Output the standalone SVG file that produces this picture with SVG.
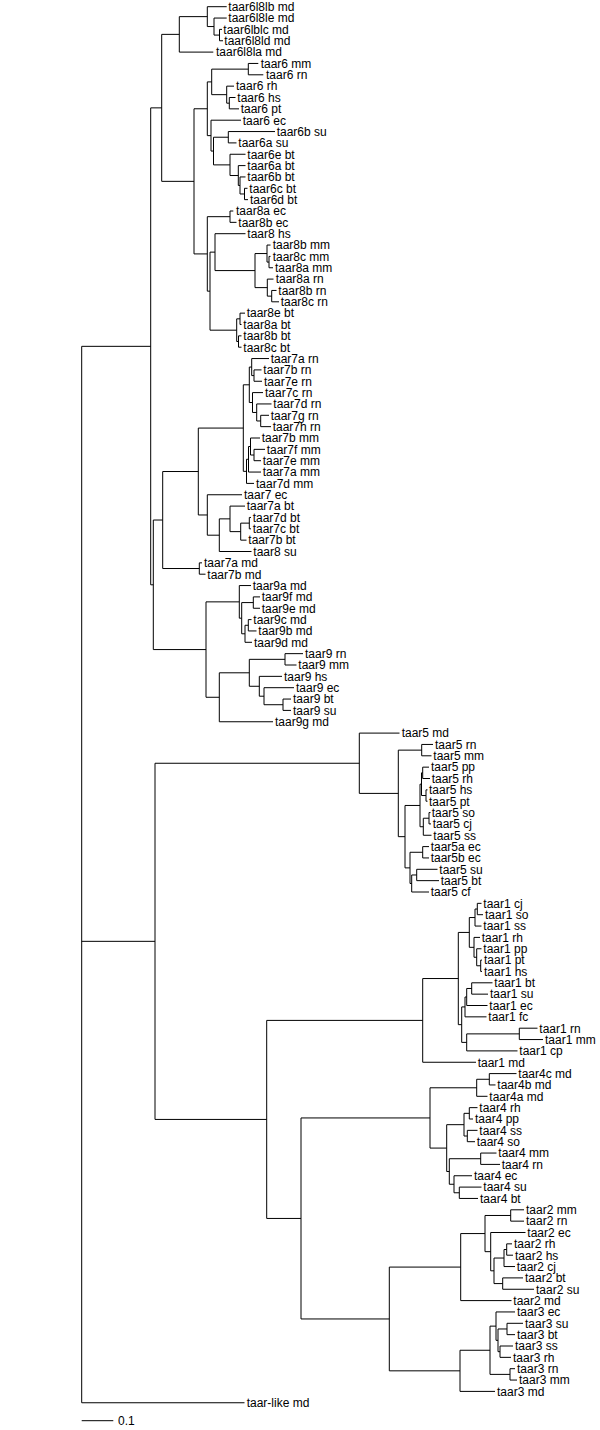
<svg xmlns="http://www.w3.org/2000/svg" width="600" height="1430" viewBox="0 0 600 1430">
<style>
.b{fill:none;stroke:#000;stroke-width:1}
.t{font-family:"Liberation Sans",Arial,sans-serif;font-size:12px;fill:#000}
</style>
<rect width="600" height="1430" fill="#fff"/>
<g id="connectors">
<path class="b" d="M219.5 29.4V40.75M219.5 29.4H222M219.5 40.75H223M214 18.05V35.08M214 18.05H226.7M214 35.08H219.5M207.3 6.7V26.56M207.3 6.7H226.7M207.3 26.56H214M179.3 16.63V52.1M179.3 16.63H207.3M179.3 52.1H213.3M248.3 63.45V74.8M248.3 63.45H258.3M248.3 74.8H263.3M229.3 97.5V108.85M229.3 97.5H235.5M229.3 108.85H239M226.7 86.15V103.18M226.7 86.15H234M226.7 103.18H229.3M211.7 69.13V94.66M211.7 69.13H248.3M211.7 94.66H226.7M228.3 131.55V142.9M228.3 131.55H275M228.3 142.9H236.5M244.5 188.3V199.65M244.5 188.3H247.5M244.5 199.65H248M240 176.95V193.98M240 176.95H245.5M240 193.98H244.5M238.3 165.6V185.46M238.3 165.6H245.5M238.3 185.46H240M230 154.25V175.53M230 154.25H245.5M230 175.53H238.3M213.5 137.23V164.89M213.5 137.23H228.3M213.5 164.89H230M211 120.2V151.06M211 120.2H241M211 151.06H213.5M207.3 81.9V135.63M207.3 81.9H211.7M207.3 135.63H211M230 211V222.35M230 211H233.3M230 222.35H236.5M269 256.4V267.75M269 256.4H270.5M269 267.75H273M267 245.05V262.08M267 245.05H270.5M267 262.08H269M271.7 290.45V301.8M271.7 290.45H276.5M271.7 301.8H279M267.3 279.1V296.13M267.3 279.1H273.5M267.3 296.13H271.7M255 253.56V287.61M255 253.56H267M255 287.61H267.3M215 233.7V270.59M215 233.7H245.5M215 270.59H255M240 313.15V324.5M240 313.15H245M240 324.5H241.5M238.5 335.85V347.2M238.5 335.85H241.5M238.5 347.2H241.5M236.7 318.83V341.53M236.7 318.83H240M236.7 341.53H238.5M210 252.14V330.18M210 252.14H215M210 330.18H236.7M207.3 216.68V291.16M207.3 216.68H230M207.3 291.16H210M194 108.77V253.92M194 108.77H207.3M194 253.92H207.3M161.7 34.37V181.35M161.7 34.37H179.3M161.7 181.35H194"/>
<path class="b" d="M254 369.9V381.25M254 369.9H261.5M254 381.25H262M251.7 358.55V375.58M251.7 358.55H269M251.7 375.58H254M260.7 415.3V426.65M260.7 415.3H269M260.7 426.65H271M256.7 403.95V420.98M256.7 403.95H271.5M256.7 420.98H260.7M252.5 392.6V412.46M252.5 392.6H263M252.5 412.46H256.7M249.3 367.06V402.53M249.3 367.06H251.7M249.3 402.53H252.5M254 449.35V460.7M254 449.35H265M254 460.7H261M250.5 438V455.03M250.5 438H260M250.5 455.03H254M248.5 446.51V472.05M248.5 446.51H250.5M248.5 472.05H261M246.5 459.28V483.4M246.5 459.28H248.5M246.5 483.4H254M243.3 384.8V471.34M243.3 384.8H249.3M243.3 471.34H246.5M249.3 517.45V528.8M249.3 517.45H251M249.3 528.8H251M240.7 523.13V540.15M240.7 523.13H249.3M240.7 540.15H246.5M230 506.1V531.64M230 506.1H245M230 531.64H240.7M219.3 518.87V551.5M219.3 518.87H230M219.3 551.5H251.5M207.3 494.75V535.19M207.3 494.75H242M207.3 535.19H219.3M198.3 428.07V514.97M198.3 428.07H243.3M198.3 514.97H207.3M199.3 562.85V574.2M199.3 562.85H202M199.3 574.2H205.5M162.7 471.52V568.53M162.7 471.52H198.3M162.7 568.53H199.3"/>
<path class="b" d="M253.3 596.9V608.25M253.3 596.9H260M253.3 608.25H260M248.3 619.6V630.95M248.3 619.6H251.5M248.3 630.95H256.5M245 625.28V642.3M245 625.28H248.3M245 642.3H252M241.7 602.58V633.79M241.7 602.58H253.3M241.7 633.79H245M239.3 585.55V618.19M239.3 585.55H251M239.3 618.19H241.7M285 653.65V665M285 653.65H303M285 665H296.5M283 699.05V710.4M283 699.05H291M283 710.4H291M264 687.7V704.73M264 687.7H294M264 704.73H283M259.3 676.35V696.21M259.3 676.35H282M259.3 696.21H264M249.3 659.33V686.28M249.3 659.33H285M249.3 686.28H259.3M219.3 672.8V721.75M219.3 672.8H249.3M219.3 721.75H273M206 601.87V697.28M206 601.87H239.3M206 697.28H219.3M153.3 520.03V649.57M153.3 520.03H162.7M153.3 649.57H206M150.7 107.86V584.8M150.7 107.86H161.7M150.7 584.8H153.3"/>
<path class="b" d="M421.7 744.45V755.8M421.7 744.45H433M421.7 755.8H431.5M422.7 767.15V778.5M422.7 767.15H429M422.7 778.5H430M426 789.85V801.2M426 789.85H427.5M426 801.2H427.5M421.5 772.83V795.53M421.5 772.83H422.7M421.5 795.53H426M429 812.55V823.9M429 812.55H430.5M429 823.9H431M423.3 818.23V835.25M423.3 818.23H429M423.3 835.25H431.5M420 784.18V826.74M420 784.18H421.5M420 826.74H423.3M422.7 846.6V857.95M422.7 846.6H429M422.7 857.95H429M416.7 869.3V880.65M416.7 869.3H437.5M416.7 880.65H439M411.7 874.98V892M411.7 874.98H416.7M411.7 892H429M410 852.28V883.49M410 852.28H422.7M410 883.49H411.7M405 805.46V867.88M405 805.46H420M405 867.88H410M398.3 750.13V836.67M398.3 750.13H421.7M398.3 836.67H405M359.3 733.1V793.4M359.3 733.1H399.5M359.3 793.4H398.3"/>
<path class="b" d="M477.3 903.35V914.7M477.3 903.35H481.5M477.3 914.7H483M475 909.03V926.05M475 909.03H477.3M475 926.05H481.5M480.7 960.1V971.45M480.7 960.1H482M480.7 971.45H482M476.7 948.75V965.78M476.7 948.75H481.5M476.7 965.78H480.7M474 937.4V957.26M474 937.4H480M474 957.26H476.7M469.3 917.54V947.33M469.3 917.54H475M469.3 947.33H474M471.7 982.8V994.15M471.7 982.8H492.5M471.7 994.15H488M466.7 988.48V1005.5M466.7 988.48H471.7M466.7 1005.5H487.5M465 996.99V1016.85M465 996.99H466.7M465 1016.85H486.5M519.3 1028.2V1039.55M519.3 1028.2H537.5M519.3 1039.55H543M466.7 1033.88V1050.9M466.7 1033.88H519.3M466.7 1050.9H517.5M461.7 1006.92V1042.39M461.7 1006.92H465M461.7 1042.39H466.7M458.3 932.43V1024.65M458.3 932.43H469.3M458.3 1024.65H461.7M422.7 978.54V1062.25M422.7 978.54H458.3M422.7 1062.25H476"/>
<path class="b" d="M489.3 1073.6V1084.95M489.3 1073.6H516.5M489.3 1084.95H495.5M476.7 1079.28V1096.3M476.7 1079.28H489.3M476.7 1096.3H487.5M469.3 1107.65V1119M469.3 1107.65H477.5M469.3 1119H473M467.3 1130.35V1141.7M467.3 1130.35H477.5M467.3 1141.7H475M464 1113.33V1136.03M464 1113.33H469.3M464 1136.03H467.3M480.7 1153.05V1164.4M480.7 1153.05H496.5M480.7 1164.4H500M459.3 1187.1V1198.45M459.3 1187.1H481.5M459.3 1198.45H478M454 1175.75V1192.78M454 1175.75H472M454 1192.78H459.3M449.3 1158.73V1184.26M449.3 1158.73H480.7M449.3 1184.26H454M446.7 1124.68V1171.5M446.7 1124.68H464M446.7 1171.5H449.3M430 1087.79V1148.09M430 1087.79H476.7M430 1148.09H446.7"/>
<path class="b" d="M510.7 1209.8V1221.15M510.7 1209.8H524M510.7 1221.15H524M506.7 1243.85V1255.2M506.7 1243.85H512M506.7 1255.2H513M504 1249.53V1266.55M504 1249.53H506.7M504 1266.55H515M502.7 1277.9V1289.25M502.7 1277.9H523M502.7 1289.25H534M494 1258.04V1283.58M494 1258.04H504M494 1283.58H502.7M490.7 1232.5V1270.81M490.7 1232.5H525.5M490.7 1270.81H494M485 1215.48V1251.66M485 1215.48H510.7M485 1251.66H490.7M460.7 1233.57V1300.6M460.7 1233.57H485M460.7 1300.6H511.5"/>
<path class="b" d="M507 1323.3V1334.65M507 1323.3H523M507 1334.65H515M500 1346V1357.35M500 1346H513M500 1357.35H511M498 1328.98V1351.68M498 1328.98H507M498 1351.68H500M496 1311.95V1340.33M496 1311.95H515M496 1340.33H498M510 1368.7V1380.05M510 1368.7H515M510 1380.05H517M490 1326.14V1374.38M490 1326.14H496M490 1374.38H510M460 1350.26V1391.4M460 1350.26H490M460 1391.4H495"/>
<path class="b" d="M389.3 1267.09V1370.83M389.3 1267.09H460.7M389.3 1370.83H460M301 1117.94V1318.96M301 1117.94H430M301 1318.96H389.3M266.7 1020.4V1218.45M266.7 1020.4H422.7M266.7 1218.45H301M155 763.25V1119.43M155 763.25H359.3M155 1119.43H266.7M81.7 346.33V1402.75M81.7 346.33H150.7M81.7 941.34H155M81.7 1402.75H244.5"/>
</g>
<g id="scale-bar">
<path class="b" d="M81.7 1420.7H113.3"/>
<text class="t" x="118" y="1425">0.1</text>
</g>
<g id="leaf-1"><text class="t" x="228.3" y="11">taar6l8lb md</text></g>
<g id="leaf-2"><text class="t" x="228.3" y="22.35">taar6l8le md</text></g>
<g id="leaf-3"><text class="t" x="223.3" y="33.7">taar6lblc md</text></g>
<g id="leaf-4"><text class="t" x="224.3" y="45.05">taar6l8ld md</text></g>
<g id="leaf-5"><text class="t" x="216" y="56.4">taar6l8la md</text></g>
<g id="leaf-6"><text class="t" x="260.7" y="67.75">taar6 mm</text></g>
<g id="leaf-7"><text class="t" x="266" y="79.1">taar6 rn</text></g>
<g id="leaf-8"><text class="t" x="236" y="90.45">taar6 rh</text></g>
<g id="leaf-9"><text class="t" x="237.3" y="101.8">taar6 hs</text></g>
<g id="leaf-10"><text class="t" x="240.7" y="113.15">taar6 pt</text></g>
<g id="leaf-11"><text class="t" x="242.7" y="124.5">taar6 ec</text></g>
<g id="leaf-12"><text class="t" x="276.7" y="135.85">taar6b su</text></g>
<g id="leaf-13"><text class="t" x="238.3" y="147.2">taar6a su</text></g>
<g id="leaf-14"><text class="t" x="247.3" y="158.55">taar6e bt</text></g>
<g id="leaf-15"><text class="t" x="247.3" y="169.9">taar6a bt</text></g>
<g id="leaf-16"><text class="t" x="247.3" y="181.25">taar6b bt</text></g>
<g id="leaf-17"><text class="t" x="249.3" y="192.6">taar6c bt</text></g>
<g id="leaf-18"><text class="t" x="250" y="203.95">taar6d bt</text></g>
<g id="leaf-19"><text class="t" x="236" y="215.3">taar8a ec</text></g>
<g id="leaf-20"><text class="t" x="238.3" y="226.65">taar8b ec</text></g>
<g id="leaf-21"><text class="t" x="247.3" y="238">taar8 hs</text></g>
<g id="leaf-22"><text class="t" x="272.7" y="249.35">taar8b mm</text></g>
<g id="leaf-23"><text class="t" x="272.7" y="260.7">taar8c mm</text></g>
<g id="leaf-24"><text class="t" x="275" y="272.05">taar8a mm</text></g>
<g id="leaf-25"><text class="t" x="275.7" y="283.4">taar8a rn</text></g>
<g id="leaf-26"><text class="t" x="278.3" y="294.75">taar8b rn</text></g>
<g id="leaf-27"><text class="t" x="280.7" y="306.1">taar8c rn</text></g>
<g id="leaf-28"><text class="t" x="246.7" y="317.45">taar8e bt</text></g>
<g id="leaf-29"><text class="t" x="243.3" y="328.8">taar8a bt</text></g>
<g id="leaf-30"><text class="t" x="243.3" y="340.15">taar8b bt</text></g>
<g id="leaf-31"><text class="t" x="243.3" y="351.5">taar8c bt</text></g>
<g id="leaf-32"><text class="t" x="270.7" y="362.85">taar7a rn</text></g>
<g id="leaf-33"><text class="t" x="263.3" y="374.2">taar7b rn</text></g>
<g id="leaf-34"><text class="t" x="264" y="385.55">taar7e rn</text></g>
<g id="leaf-35"><text class="t" x="265" y="396.9">taar7c rn</text></g>
<g id="leaf-36"><text class="t" x="273.3" y="408.25">taar7d rn</text></g>
<g id="leaf-37"><text class="t" x="270.7" y="419.6">taar7g rn</text></g>
<g id="leaf-38"><text class="t" x="272.7" y="430.95">taar7h rn</text></g>
<g id="leaf-39"><text class="t" x="261.7" y="442.3">taar7b mm</text></g>
<g id="leaf-40"><text class="t" x="266.7" y="453.65">taar7f mm</text></g>
<g id="leaf-41"><text class="t" x="262.7" y="465">taar7e mm</text></g>
<g id="leaf-42"><text class="t" x="262.7" y="476.35">taar7a mm</text></g>
<g id="leaf-43"><text class="t" x="256" y="487.7">taar7d mm</text></g>
<g id="leaf-44"><text class="t" x="244" y="499.05">taar7 ec</text></g>
<g id="leaf-45"><text class="t" x="246.7" y="510.4">taar7a bt</text></g>
<g id="leaf-46"><text class="t" x="252.7" y="521.75">taar7d bt</text></g>
<g id="leaf-47"><text class="t" x="252.7" y="533.1">taar7c bt</text></g>
<g id="leaf-48"><text class="t" x="248.3" y="544.45">taar7b bt</text></g>
<g id="leaf-49"><text class="t" x="253.3" y="555.8">taar8 su</text></g>
<g id="leaf-50"><text class="t" x="204" y="567.15">taar7a md</text></g>
<g id="leaf-51"><text class="t" x="207.3" y="578.5">taar7b md</text></g>
<g id="leaf-52"><text class="t" x="252.7" y="589.85">taar9a md</text></g>
<g id="leaf-53"><text class="t" x="261.7" y="601.2">taar9f md</text></g>
<g id="leaf-54"><text class="t" x="261.7" y="612.55">taar9e md</text></g>
<g id="leaf-55"><text class="t" x="253.3" y="623.9">taar9c md</text></g>
<g id="leaf-56"><text class="t" x="258.3" y="635.25">taar9b md</text></g>
<g id="leaf-57"><text class="t" x="254" y="646.6">taar9d md</text></g>
<g id="leaf-58"><text class="t" x="305" y="657.95">taar9 rn</text></g>
<g id="leaf-59"><text class="t" x="298.3" y="669.3">taar9 mm</text></g>
<g id="leaf-60"><text class="t" x="284" y="680.65">taar9 hs</text></g>
<g id="leaf-61"><text class="t" x="296" y="692">taar9 ec</text></g>
<g id="leaf-62"><text class="t" x="293" y="703.35">taar9 bt</text></g>
<g id="leaf-63"><text class="t" x="293" y="714.7">taar9 su</text></g>
<g id="leaf-64"><text class="t" x="275" y="726.05">taar9g md</text></g>
<g id="leaf-65"><text class="t" x="401.7" y="737.4">taar5 md</text></g>
<g id="leaf-66"><text class="t" x="435" y="748.75">taar5 rn</text></g>
<g id="leaf-67"><text class="t" x="433.3" y="760.1">taar5 mm</text></g>
<g id="leaf-68"><text class="t" x="431" y="771.45">taar5 pp</text></g>
<g id="leaf-69"><text class="t" x="431.7" y="782.8">taar5 rh</text></g>
<g id="leaf-70"><text class="t" x="429" y="794.15">taar5 hs</text></g>
<g id="leaf-71"><text class="t" x="429" y="805.5">taar5 pt</text></g>
<g id="leaf-72"><text class="t" x="431.7" y="816.85">taar5 so</text></g>
<g id="leaf-73"><text class="t" x="432.7" y="828.2">taar5 cj</text></g>
<g id="leaf-74"><text class="t" x="433.3" y="839.55">taar5 ss</text></g>
<g id="leaf-75"><text class="t" x="430.7" y="850.9">taar5a ec</text></g>
<g id="leaf-76"><text class="t" x="430.7" y="862.25">taar5b ec</text></g>
<g id="leaf-77"><text class="t" x="439.3" y="873.6">taar5 su</text></g>
<g id="leaf-78"><text class="t" x="440.7" y="884.95">taar5 bt</text></g>
<g id="leaf-79"><text class="t" x="430.7" y="896.3">taar5 cf</text></g>
<g id="leaf-80"><text class="t" x="483.3" y="907.65">taar1 cj</text></g>
<g id="leaf-81"><text class="t" x="485" y="919">taar1 so</text></g>
<g id="leaf-82"><text class="t" x="483.3" y="930.35">taar1 ss</text></g>
<g id="leaf-83"><text class="t" x="481.7" y="941.7">taar1 rh</text></g>
<g id="leaf-84"><text class="t" x="483.3" y="953.05">taar1 pp</text></g>
<g id="leaf-85"><text class="t" x="484" y="964.4">taar1 pt</text></g>
<g id="leaf-86"><text class="t" x="484" y="975.75">taar1 hs</text></g>
<g id="leaf-87"><text class="t" x="494.3" y="987.1">taar1 bt</text></g>
<g id="leaf-88"><text class="t" x="490" y="998.45">taar1 su</text></g>
<g id="leaf-89"><text class="t" x="489.3" y="1009.8">taar1 ec</text></g>
<g id="leaf-90"><text class="t" x="488.3" y="1021.15">taar1 fc</text></g>
<g id="leaf-91"><text class="t" x="539.3" y="1032.5">taar1 rn</text></g>
<g id="leaf-92"><text class="t" x="545" y="1043.85">taar1 mm</text></g>
<g id="leaf-93"><text class="t" x="519.3" y="1055.2">taar1 cp</text></g>
<g id="leaf-94"><text class="t" x="477.7" y="1066.55">taar1 md</text></g>
<g id="leaf-95"><text class="t" x="518.3" y="1077.9">taar4c md</text></g>
<g id="leaf-96"><text class="t" x="497.3" y="1089.25">taar4b md</text></g>
<g id="leaf-97"><text class="t" x="489.3" y="1100.6">taar4a md</text></g>
<g id="leaf-98"><text class="t" x="479.3" y="1111.95">taar4 rh</text></g>
<g id="leaf-99"><text class="t" x="475" y="1123.3">taar4 pp</text></g>
<g id="leaf-100"><text class="t" x="479.3" y="1134.65">taar4 ss</text></g>
<g id="leaf-101"><text class="t" x="476.7" y="1146">taar4 so</text></g>
<g id="leaf-102"><text class="t" x="498.3" y="1157.35">taar4 mm</text></g>
<g id="leaf-103"><text class="t" x="501.7" y="1168.7">taar4 rn</text></g>
<g id="leaf-104"><text class="t" x="474" y="1180.05">taar4 ec</text></g>
<g id="leaf-105"><text class="t" x="483.3" y="1191.4">taar4 su</text></g>
<g id="leaf-106"><text class="t" x="480" y="1202.75">taar4 bt</text></g>
<g id="leaf-107"><text class="t" x="526" y="1214.1">taar2 mm</text></g>
<g id="leaf-108"><text class="t" x="526" y="1225.45">taar2 rn</text></g>
<g id="leaf-109"><text class="t" x="527.3" y="1236.8">taar2 ec</text></g>
<g id="leaf-110"><text class="t" x="514" y="1248.15">taar2 rh</text></g>
<g id="leaf-111"><text class="t" x="515" y="1259.5">taar2 hs</text></g>
<g id="leaf-112"><text class="t" x="516.7" y="1270.85">taar2 cj</text></g>
<g id="leaf-113"><text class="t" x="525" y="1282.2">taar2 bt</text></g>
<g id="leaf-114"><text class="t" x="536" y="1293.55">taar2 su</text></g>
<g id="leaf-115"><text class="t" x="513.3" y="1304.9">taar2 md</text></g>
<g id="leaf-116"><text class="t" x="517" y="1316.25">taar3 ec</text></g>
<g id="leaf-117"><text class="t" x="525" y="1327.6">taar3 su</text></g>
<g id="leaf-118"><text class="t" x="517" y="1338.95">taar3 bt</text></g>
<g id="leaf-119"><text class="t" x="515" y="1350.3">taar3 ss</text></g>
<g id="leaf-120"><text class="t" x="513" y="1361.65">taar3 rh</text></g>
<g id="leaf-121"><text class="t" x="517" y="1373">taar3 rn</text></g>
<g id="leaf-122"><text class="t" x="519" y="1384.35">taar3 mm</text></g>
<g id="leaf-123"><text class="t" x="497" y="1395.7">taar3 md</text></g>
<g id="leaf-124"><text class="t" x="246.7" y="1407.05">taar-like md</text></g>
</svg>
